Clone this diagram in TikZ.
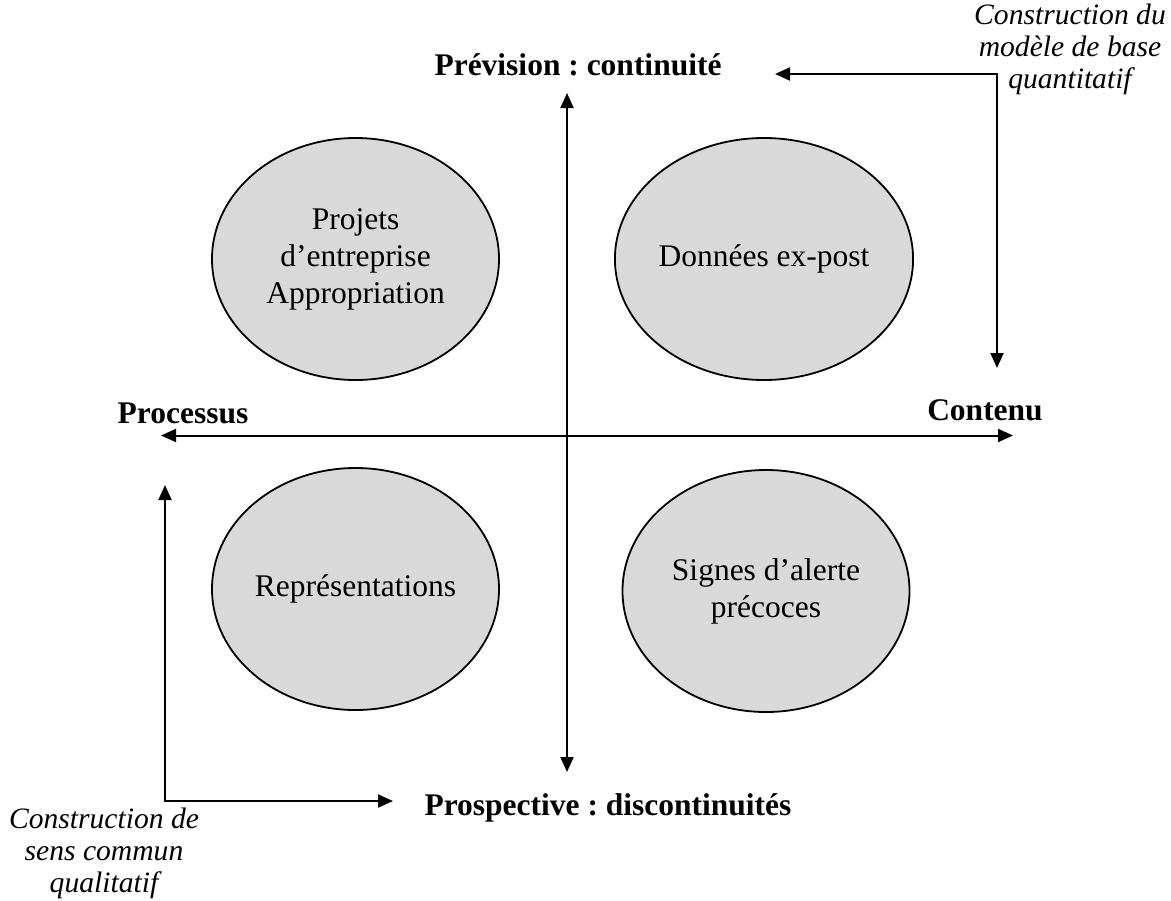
\documentclass[tikz,border=0pt]{standalone}
\usepackage{fontspec}
\setmainfont{Liberation Serif}
\usetikzlibrary{shapes.geometric,arrows.meta}
\frenchspacing

\begin{document}
\begin{tikzpicture}[x=0.5pt,y=-0.5pt,
    quad/.style={ellipse,draw,line width=0.9pt,fill=black!15,minimum width=143.5pt,minimum height=121pt,inner sep=0pt,align=center,font=\fontsize{15.75pt}{18.5pt}\selectfont},
    axis/.style={line width=1pt,{Triangle[length=7.5pt,width=6.5pt]}-{Triangle[length=7.5pt,width=6.5pt]}},
    pole/.style={font=\fontsize{15.75pt}{18.5pt}\selectfont\bfseries,inner sep=0pt,anchor=base},
    note/.style={font=\fontsize{14.8pt}{16pt}\selectfont\itshape,inner sep=0pt,align=center}]

    \useasboundingbox (0,0) rectangle (1171,900);

    \coordinate (tl) at (355.5,259);
    \coordinate (tr) at (764,259);
    \coordinate (bl) at (355.5,589);
    \coordinate (br) at (766,591);

    \coordinate (top) at (567,93);
    \coordinate (bottom) at (567,772);
    \coordinate (left) at (161,435.5);
    \coordinate (right) at (1013,435.5);

    \coordinate (quantiA) at (775,74);
    \coordinate (quantiB) at (997,368);
    \coordinate (qualiA) at (165,485);
    \coordinate (qualiB) at (393,801);

    \foreach \c/\t in {tl/{Projets\\d’entreprise\\Appropriation}, tr/{Données ex-post},
                       bl/{Représentations}, br/{Signes d’alerte\\précoces}}
    \node[quad] (e\c) at (\c) {\t};

    \node[pole] (prev) at (578,75) {Prévision : continuité};
    \node[pole] (prosp) at (608,815) {Prospective : discontinuités};
    \node[pole] (proc) at (183,423) {Processus};
    \node[pole] (cont) at (985,420) {Contenu};

    \node[note] (quanti) at (1070,49) {Construction du\\modèle de base\\quantitatif};
    \node[note] (quali) at (104,853) {Construction de\\sens commun\\qualitatif};

    \draw[axis] (top) -- (bottom);
    \draw[axis] (left) -- (right);
    \draw[axis] (quantiA) -| (quantiB);
    \draw[axis] (qualiA) |- (qualiB);

  \end{tikzpicture}
\end{document}
